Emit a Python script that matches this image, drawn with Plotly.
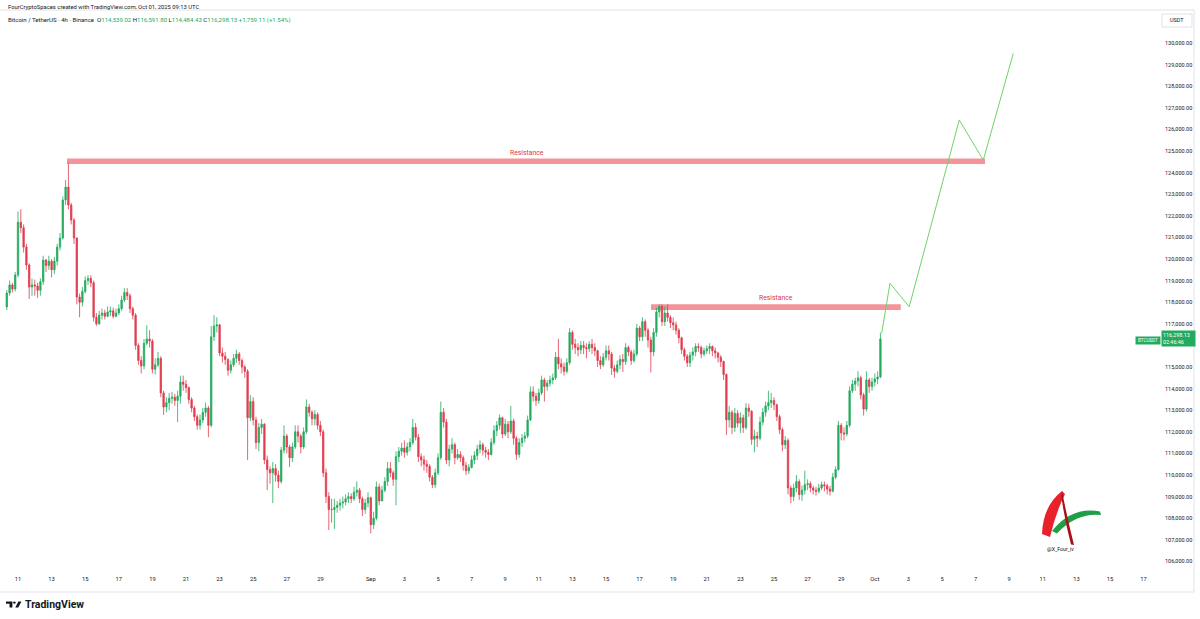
import pandas as pd
import plotly.graph_objects as go

# ---------------- data (4h BTC/USDT candles) ----------------
first_open = 117780
close = [
    118425, 118800, 118610, 119260,                      # Aug 10 (from 08:00)
    121700, 121450, 120550, 119720, 118700, 118800,      # Aug 11
    118750, 118550, 118950, 119950, 119700, 119900,      # Aug 12
    119500, 119900, 120550, 120970, 122730, 123330,      # Aug 13
    122500, 121800, 120970, 118240, 118000, 118500,      # Aug 14
    119000, 119100, 118900, 117300, 117000, 117400,      # Aug 15
    117500, 117350, 117550, 117600, 117350, 117500,      # Aug 16
    117700, 118100, 118450, 118300, 117700, 117400,      # Aug 17
    116000, 115300, 115050, 116100, 116300, 116200,      # Aug 18
    114900, 115100, 115400, 113800, 113150, 113350,      # Aug 19
    113550, 113600, 113450, 113650, 114300, 114200,      # Aug 20
    114050, 113500, 113100, 112700, 112300, 112550,      # Aug 21
    112900, 113100, 112300, 116400, 116900, 116950,      # Aug 22
    115650, 115500, 115350, 114850, 115100, 115400,      # Aug 23
    115600, 115300, 115000, 114800, 112650, 113400,      # Aug 24
    112550, 111500, 112200, 112350, 110700, 110250,      # Aug 25
    110100, 110300, 110000, 109700, 111150, 111800,      # Aug 26
    111300, 110800, 111300, 112000, 111800, 111300,      # Aug 27
    112000, 113150, 112900, 112600, 112800, 112300,      # Aug 28
    112000, 110100, 109000, 108400, 108400, 108500,      # Aug 29
    108600, 108700, 108750, 108900, 109000, 108900,      # Aug 30
    109200, 109300, 108900, 108400, 108700, 108950,      # Aug 31
    107700, 108000, 109450, 108800, 109300, 109700,      # Sep 1
    110300, 110100, 109800, 110850, 111100, 111250,      # Sep 2
    111050, 111300, 111500, 112200, 111750, 110850,      # Sep 3
    110700, 110500, 110400, 109900, 109550, 110100,      # Sep 4
    110800, 112900, 112450, 110700, 111200, 111400,      # Sep 5
    110800, 110950, 110800, 110450, 110200, 110350,      # Sep 6
    110700, 110900, 111200, 111400, 111150, 111050,      # Sep 7
    110950, 111500, 112050, 112300, 112650, 111900,      # Sep 8
    112350, 112000, 112500, 111700, 110950, 111500,      # Sep 9
    111700, 111800, 112550, 113850, 113650, 113450,      # Sep 10
    113800, 114400, 114100, 114250, 114400, 114500,      # Sep 11
    115450, 115150, 115000, 114800, 115200, 116600,      # Sep 12
    116050, 115900, 115800, 116000, 115900, 115850,      # Sep 13
    116050, 115900, 115750, 115300, 115100, 115450,      # Sep 14
    115750, 115600, 114950, 114800, 115100, 115350,      # Sep 15
    115250, 115900, 115700, 115300, 115600, 116800,      # Sep 16
    116400, 117100, 116700, 116250, 115700, 116600,      # Sep 17
    117550, 117800, 117100, 117500, 117300, 117050,      # Sep 18
    116950, 116700, 116350, 115800, 115500, 115200,      # Sep 19
    115550, 115700, 115950, 115900, 115600, 115750,      # Sep 20
    115850, 115950, 115750, 115650, 115450, 115250,      # Sep 21
    114650, 112550, 112900, 112200, 112850, 112400,      # Sep 22
    112650, 112200, 113100, 112950, 111650, 111800,      # Sep 23
    111700, 112450, 112900, 113200, 113350, 113450,      # Sep 24
    113250, 112700, 112100, 111400, 111600, 109400,      # Sep 25
    109000, 109400, 109700, 109100, 109300, 109550,      # Sep 26
    109600, 109400, 109300, 109250, 109400, 109550,      # Sep 27
    109500, 109350, 109250, 109900, 110250, 112300,      # Sep 28
    111950, 111900, 112300, 113900, 114200, 114350,      # Sep 29
    114500, 113700, 113050, 114400, 114100, 114300,      # Sep 30
    114450, 114539.02, 116298.13,                        # Oct 1
]
high = [
    118560, 119000, 118900, 119400,
    122200, 122300, 121600, 120700, 119800, 119100,
    119050, 118900, 119100, 120150, 120000, 120150,
    120000, 120100, 120700, 121200, 122900, 123660,
    124460, 122600, 121900, 121000, 118400, 118700,
    119200, 119250, 119250, 119000, 117500, 117600,
    117700, 117650, 117800, 117800, 117750, 117700,
    117900, 118300, 118650, 118650, 118400, 117800,
    117500, 116100, 115500, 116300, 116940, 116700,
    116300, 115400, 115700, 115500, 113900, 113600,
    113800, 113850, 113750, 113900, 114600, 114600,
    114400, 114100, 113600, 113200, 112800, 112800,
    113100, 113350, 113200, 116900, 117400, 117300,
    117000, 115900, 115700, 115400, 115300, 115600,
    115800, 115700, 115400, 115100, 114900, 113700,
    113600, 112700, 112400, 112600, 112400, 110900,
    110400, 110600, 110500, 110200, 111300, 112300,
    111900, 111400, 111500, 112300, 112300, 111900,
    112200, 113500, 113300, 113000, 113000, 112900,
    112500, 112100, 110300, 109200, 108900, 108900,
    108800, 108900, 109000, 109100, 109200, 109150,
    109450, 109700, 109400, 109000, 108900, 109200,
    109000, 108300, 109700, 109600, 109500, 109900,
    110600, 110600, 110200, 111100, 111300, 111500,
    111600, 111500, 111700, 112600, 112400, 111900,
    111000, 110900, 110700, 110500, 110000, 110300,
    111000, 113400, 113100, 112600, 111400, 111700,
    111500, 111200, 111100, 110900, 110600, 110500,
    110900, 111100, 111400, 111600, 111500, 111300,
    111200, 111700, 112300, 112500, 112800, 112700,
    112600, 112500, 113200, 112600, 111800, 111700,
    111900, 112000, 112750, 114100, 114100, 113800,
    114000, 114600, 114500, 114400, 114600, 114700,
    115700, 116300, 115400, 115200, 115400, 116800,
    116700, 116300, 116100, 116200, 116200, 116100,
    116200, 116300, 116100, 115800, 115500, 115650,
    116000, 116000, 115700, 115100, 115300, 115550,
    115600, 116100, 116000, 115800, 115800, 117000,
    116900, 117300, 117200, 116800, 116400, 116800,
    117750, 117900, 117900, 117800, 117900, 117400,
    117300, 117100, 116800, 116400, 115900, 115600,
    115700, 115900, 116100, 116100, 116000, 115900,
    116000, 116100, 116000, 115900, 115700, 115550,
    115300, 114700, 113200, 113000, 113100, 113000,
    112900, 112800, 113330, 113300, 113000, 112100,
    112000, 112700, 113100, 113400, 113900, 113800,
    113600, 113300, 112800, 112200, 111800, 111700,
    109500, 109600, 110000, 109800, 109500, 110200,
    109800, 109700, 109500, 109450, 109600, 109700,
    109700, 109600, 109500, 110100, 110400, 112500,
    112400, 112200, 112500, 114100, 114400, 114500,
    114800, 114600, 113800, 114800, 114500, 114500,
    114700, 114800, 116591.80,
]
low = [
    117640, 118300, 118450, 118500,
    119150, 121200, 120300, 119500, 118150, 118300,
    118300, 118200, 118300, 118800, 119400, 119500,
    119150, 119300, 119700, 120400, 120900, 122500,
    122300, 121600, 120700, 117900, 117300, 117800,
    118400, 118800, 118700, 117100, 116900, 116950,
    117200, 117200, 117300, 117350, 117250, 117300,
    117400, 117600, 118000, 118100, 117500, 117200,
    115800, 115100, 114700, 114900, 116000, 115900,
    114700, 114650, 115000, 113600, 112780, 112900,
    113000, 113300, 113200, 112450, 113300, 113900,
    113800, 113300, 112900, 112500, 112100, 112100,
    112400, 112700, 111750, 112200, 116200, 116600,
    115500, 115200, 115100, 114600, 114700, 115000,
    115200, 115100, 114700, 114500, 110700, 112500,
    112300, 111200, 111100, 111900, 110500, 109300,
    109600, 108700, 109700, 109400, 109600, 111000,
    111000, 110370, 110600, 111200, 111500, 111000,
    111200, 111900, 112700, 112300, 112300, 112100,
    111800, 109900, 108700, 107450, 107800, 107500,
    108250, 108350, 108450, 108600, 108700, 108700,
    108800, 109000, 108700, 108100, 108200, 108500,
    107300, 107500, 107900, 108600, 108800, 109200,
    109500, 109900, 109500, 108600, 110600, 110900,
    110800, 110900, 111100, 111400, 111600, 110600,
    110400, 110200, 110100, 109700, 109400, 109400,
    110000, 110700, 112200, 110500, 110400, 111000,
    110500, 110700, 110600, 110200, 110000, 110050,
    110300, 110500, 110700, 111000, 110900, 110800,
    110700, 110900, 111400, 111800, 112100, 111700,
    111800, 111700, 111900, 111400, 110700, 110800,
    111300, 111500, 111700, 112500, 113400, 113200,
    113300, 113700, 113400, 113900, 114100, 114200,
    114400, 114900, 114700, 114600, 114700, 115100,
    115800, 115600, 115500, 115600, 115600, 115400,
    115700, 115600, 115500, 115000, 114900, 115000,
    115300, 115300, 114630, 114500, 114700, 114900,
    114770, 115100, 115500, 115100, 115200, 115500,
    116200, 116200, 116400, 115900, 114750, 115500,
    116400, 117300, 116900, 116900, 117100, 116800,
    116700, 116500, 116100, 115600, 115300, 115000,
    115000, 115300, 115500, 115700, 115400, 115500,
    115600, 115600, 115500, 115400, 115200, 115000,
    114400, 111850, 112200, 111900, 112000, 112200,
    111950, 111950, 112100, 112700, 111400, 111050,
    111300, 111600, 112300, 112700, 113000, 113100,
    113000, 112500, 111900, 111100, 111200, 109100,
    108700, 108800, 109200, 108850, 108800, 109100,
    109300, 109200, 109100, 109050, 109150, 109300,
    109250, 109100, 109050, 109200, 109800, 110200,
    111600, 111600, 111800, 112200, 113800, 113900,
    114100, 113500, 112750, 112950, 113800, 113900,
    114100, 114200, 114484.43,
]
open_ = [first_open] + close[:-1]
times = pd.date_range("2025-08-10 08:00", periods=len(close), freq="4h")

last_price = 116298.13

# resistance zones
res_upper_start, res_upper_end = "2025-08-13 22:00", "2025-10-07 13:30"
res_upper_low, res_upper_high = 124400, 124650
res_upper_label_x = "2025-09-10 07:00"
res_lower_start, res_lower_end = "2025-09-17 16:20", "2025-10-02 13:00"
res_lower_low, res_lower_high = 117640, 117900
res_lower_label_x = "2025-09-25 03:00"

# projected path
proj_time = ["2025-10-01 09:50", "2025-10-01 21:40", "2025-10-03 01:10",
             "2025-10-06 00:40", "2025-10-07 11:00", "2025-10-09 05:50"]
proj_price = [116560, 118875, 117790, 126435, 124580, 129520]

price_ticks = [106000, 107000, 108000, 109000, 110000, 111000, 112000, 113000,
               114000, 115000, 117000, 118000, 119000, 120000, 121000, 122000,
               123000, 124000, 125000, 126000, 127000, 128000, 129000, 130000]

tick_dates = ["2025-08-11", "2025-08-13", "2025-08-15", "2025-08-17", "2025-08-19",
              "2025-08-21", "2025-08-23", "2025-08-25", "2025-08-27", "2025-08-29",
              "2025-09-01", "2025-09-03", "2025-09-05", "2025-09-07", "2025-09-09",
              "2025-09-11", "2025-09-13", "2025-09-15", "2025-09-17", "2025-09-19",
              "2025-09-21", "2025-09-23", "2025-09-25", "2025-09-27", "2025-09-29",
              "2025-10-01", "2025-10-03", "2025-10-05", "2025-10-07", "2025-10-09",
              "2025-10-11", "2025-10-13", "2025-10-15", "2025-10-17"]
tick_text = ["11", "13", "15", "17", "19", "21", "23", "25", "27", "29",
             "Sep", "3", "5", "7", "9", "11", "13", "15", "17", "19", "21", "23",
             "25", "27", "29", "Oct", "3", "5", "7", "9", "11", "13", "15", "17"]

# ---------------- styling ----------------
W, H = 1200, 619
ML, MR, MT, MB = 0, 40, 12, 45
PW, PH = W - ML - MR, H - MT - MB
GREEN = "#22ab5e"
RED = "#e23b4e"
ZONE = "#f3939c"
TXT = "#131722"
FONT = "Roboto"


def fx(px):
    return (px - ML) / PW


def fy(py):
    return (H - MB - py) / PH


def path(segments):
    """segments: list of (cmd, [points]); each command gets its own letter."""
    per = {"M": 1, "L": 1, "Q": 2}
    out = []
    for cmd, pts in segments:
        n = per[cmd]
        for i in range(0, len(pts), n):
            grp = pts[i:i + n]
            out.append(cmd + " " + " ".join(f"{fx(a):.5f},{fy(b):.5f}" for a, b in grp))
    return " ".join(out) + " Z"


fig = go.Figure()
fig.add_trace(go.Candlestick(
    x=times, open=open_, high=high, low=low, close=close,
    increasing=dict(line=dict(color=GREEN, width=0.8), fillcolor=GREEN),
    decreasing=dict(line=dict(color=RED, width=0.8), fillcolor=RED),
    whiskerwidth=0, hoverinfo="skip", showlegend=False,
))
fig.add_trace(go.Scatter(
    x=proj_time, y=proj_price, mode="lines",
    line=dict(color="#6fd468", width=1), hoverinfo="skip", showlegend=False,
))

shapes = [
    dict(type="rect", xref="x", yref="y", x0=res_upper_start, x1=res_upper_end,
         y0=res_upper_low, y1=res_upper_high, fillcolor=ZONE, line=dict(width=0), layer="below"),
    dict(type="rect", xref="x", yref="y", x0=res_lower_start, x1=res_lower_end,
         y0=res_lower_low, y1=res_lower_high, fillcolor=ZONE, line=dict(width=0), layer="below"),
    # frame lines
    dict(type="line", xref="paper", yref="paper", x0=fx(0), x1=fx(1194), y0=fy(10), y1=fy(10),
         line=dict(color="#e0e3eb", width=1)),
    dict(type="line", xref="paper", yref="paper", x0=fx(0), x1=fx(1194), y0=fy(592), y1=fy(592),
         line=dict(color="#e0e3eb", width=1)),
    dict(type="line", xref="paper", yref="paper", x0=fx(1194), x1=fx(1194), y0=fy(10), y1=fy(592),
         line=dict(color="#e0e3eb", width=1)),
    # USDT box
    dict(type="rect", xref="paper", yref="paper", x0=fx(1162), x1=fx(1192), y0=fy(14), y1=fy(27),
         line=dict(color="#e0e3eb", width=1), fillcolor="white"),
    # TradingView mark
    dict(type="path", xref="paper", yref="paper", fillcolor=TXT, line=dict(width=0),
         path=path([("M", [(6, 601.5)]), ("L", [(12.4, 601.5), (12.4, 607.6), (9.5, 607.6),
                                                 (9.5, 603.8), (6, 603.8)])])),
    dict(type="circle", xref="paper", yref="paper", fillcolor=TXT, line=dict(width=0),
         x0=fx(13.2), x1=fx(15.6), y0=fy(601.4), y1=fy(603.8)),
    dict(type="path", xref="paper", yref="paper", fillcolor=TXT, line=dict(width=0),
         path=path([("M", [(18.4, 601.5)]), ("L", [(21.4, 601.5), (18.3, 607.6), (15.3, 607.6)])])),
    # author logo: green swoosh
    dict(type="path", xref="paper", yref="paper", fillcolor="#1f9e47", line=dict(width=0),
         layer="below",
         path=path([("M", [(1052, 531)]), ("Q", [(1072, 506), (1100, 511.5)]),
                    ("L", [(1101, 515)]), ("Q", [(1076, 512.5), (1057, 533.5)])])),
    # author logo: red left arm
    dict(type="path", xref="paper", yref="paper", fillcolor="#e8212b", line=dict(width=0),
         layer="below",
         path=path([("M", [(1042, 534)]), ("Q", [(1043, 506), (1062, 491)]),
                    ("L", [(1065, 494)]), ("Q", [(1056, 512), (1050, 537)])])),
    # author logo: dark red right leg
    dict(type="path", xref="paper", yref="paper", fillcolor="#a8101c", line=dict(width=0),
         layer="below",
         path=path([("M", [(1062, 491)]), ("Q", [(1067, 517), (1074, 545)]),
                    ("L", [(1071, 544.5)]), ("Q", [(1064.5, 520), (1061.5, 497)])])),
]

green_span = lambda s: f'<span style="color:{GREEN}">{s}</span>'
header2 = ("Bitcoin / TetherUS · 4h · Binance  O" + green_span("114,539.02") +
           " H" + green_span("116,591.80") + " L" + green_span("114,484.43") +
           " C" + green_span("116,298.13") + " " + green_span("+1,759.11 (+1.54%)"))

annotations = [
    dict(xref="paper", yref="paper", x=fx(6), y=fy(6.5), xanchor="left", yanchor="middle",
         text="FourCryptoSpaces created with TradingView.com, Oct 01, 2025 09:13 UTC",
         showarrow=False, font=dict(family=FONT, size=5.85, color=TXT)),
    dict(xref="paper", yref="paper", x=fx(6), y=fy(19.5), xanchor="left", yanchor="middle",
         text=header2, showarrow=False, font=dict(family=FONT, size=6.05, color=TXT)),
    dict(xref="paper", yref="paper", x=fx(1177), y=fy(20.5), xanchor="center", yanchor="middle",
         text="USDT", showarrow=False, font=dict(family=FONT, size=5.5, color=TXT)),
    dict(xref="x", yref="y", x=res_upper_label_x, y=res_upper_high, xanchor="center", yanchor="bottom",
         text="Resistance", showarrow=False,
         font=dict(family=FONT, size=6.8, color="#e0344a")),
    dict(xref="x", yref="y", x=res_lower_label_x, y=res_lower_high, xanchor="center", yanchor="bottom",
         text="Resistance", showarrow=False,
         font=dict(family=FONT, size=6.8, color="#e0344a")),
    dict(xref="paper", yref="y", x=fx(1160.5), y=last_price, xanchor="left", yanchor="middle",
         text="116,298.13<br>02:46:46", showarrow=False, bgcolor=GREEN, borderpad=1,
         width=31, align="left", font=dict(family=FONT, size=5.4, color="white")),
    dict(xref="paper", yref="y", x=fx(1147.5), y=last_price - 90, xanchor="center", yanchor="middle",
         text="BTCUSDT", showarrow=False, bgcolor=GREEN, borderpad=1, width=22,
         font=dict(family=FONT, size=4.6, color="white")),
    dict(xref="paper", yref="paper", x=fx(1060), y=fy(549), xanchor="center", yanchor="middle",
         text="@X_Four_iv", showarrow=False, font=dict(family=FONT, size=5.2, color="#111")),
    dict(xref="paper", yref="paper", x=fx(23), y=fy(604.5), xanchor="left", yanchor="middle",
         text="<b>TradingView</b>", showarrow=False, font=dict(family=FONT, size=10.5, color=TXT)),
]

fig.update_layout(
    width=W, height=H, margin=dict(l=ML, r=MR, t=MT, b=MB),
    paper_bgcolor="white", plot_bgcolor="white",
    showlegend=False, hovermode=False,
    shapes=shapes, annotations=annotations,
    xaxis=dict(
        type="date", range=["2025-08-09 22:17", "2025-10-17 23:25"],
        rangeslider=dict(visible=False), showgrid=False, zeroline=False, showline=False,
        tickmode="array", tickvals=tick_dates, ticktext=tick_text, ticks="",
        tickfont=dict(family=FONT, size=5.8, color=TXT),
    ),
    yaxis=dict(
        side="right", range=[105417, 131435], showgrid=False, zeroline=False, showline=False,
        tickmode="array", tickvals=price_ticks, tickformat=",.2f", ticks="",
        ticklabelstandoff=4, tickfont=dict(family=FONT, size=5.5, color=TXT),
    ),
)

fig.write_html("out.html", config={"displayModeBar": False},
               post_script="document.body.style.margin='0';document.body.style.padding='0';")
